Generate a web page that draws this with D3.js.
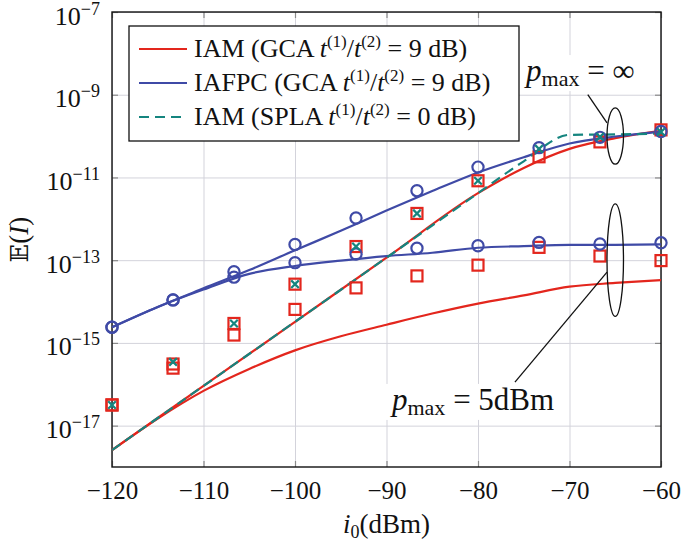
<!DOCTYPE html>
<html><head><meta charset="utf-8">
<script src="https://cdn.jsdelivr.net/npm/d3@7"></script>
<style>body{margin:0;background:#fff} svg{display:block}</style>
</head><body>
<svg id="c" width="685" height="548"></svg>
<script>
// ---------------- data (values are log10 of E(I)) ----------------
const markerX = [-120, -113.33, -106.67, -100, -93.33, -86.67, -80, -73.33, -66.67, -60];
const lineX5  = [-120, -115, -110, -105, -100, -95, -90, -85, -80, -75, -70, -65, -60];
const lineX10 = [-120, -110, -100, -90, -80, -75, -70, -65, -60];

// analytical curves
const iamGcaInfLine  = [-17.59, -16.04, -14.49, -12.94, -11.38, -10.77, -10.31, -10.05, -9.87]; // on lineX10
const splaInfLine    = [-17.59, -16.04, -14.49, -12.94, -11.38, -10.61, -9.97, -9.96, -9.94];   // on lineX10
const iamGca5Line    = [-17.59, -16.83, -16.16, -15.63, -15.18, -14.84, -14.56, -14.29, -14.05, -13.85, -13.64, -13.55, -13.48]; // lineX5
const iafpcInfLine   = [-14.62, -14.13, -13.68, -13.24, -12.76, -12.29, -11.80, -11.33, -10.88, -10.51, -10.18, -10.01, -9.89]; // lineX5
const iafpc5Line     = [-14.62, -14.13, -13.71, -13.33, -13.14, -13.01, -12.90, -12.82, -12.70, -12.66, -12.63, -12.63, -12.62]; // lineX5

// simulation markers (on markerX)
const iafpcInfSim = [-14.62, -13.96, -13.28, -12.62, -11.98, -11.32, -10.75, -10.28, -10.03, -9.89];
const iafpc5Sim   = [-14.62, -13.96, -13.41, -13.06, -12.85, -12.71, -12.65, -12.57, -12.61, -12.58];
const iamInfSim   = [-16.50, -15.51, -14.53, -13.58, -12.67, -11.87, -11.08, -10.50, -10.14, -9.85];
const iam5Sim     = [-16.50, -15.61, -14.81, -14.19, -13.67, -13.38, -13.12, -12.69, -12.90, -13.01];
const splaInfSim  = [-16.50, -15.46, -14.53, -13.58, -12.67, -11.87, -11.08, -10.31, -10.02, -9.90];

const xTicks = [-120, -110, -100, -90, -80, -70, -60];
const yTickExps = [-7, -9, -11, -13, -15, -17];

const legendItems = [
  {pre: "IAM (GCA ", post: " = 9 dB)", color: "#e3261d", dash: null},
  {pre: "IAFPC (GCA ", post: " = 9 dB)", color: "#3f4aa6", dash: null},
  {pre: "IAM (SPLA ", post: " = 0 dB)", color: "#15857f", dash: "10,6"}
];

// annotations (data coordinates: dB, log10)
const ellipses = [
  {cx: -65.0, cy: -10.0, rxDb: 0.9, ryDec: 0.68},
  {cx: -65.0, cy: -13.0, rxDb: 0.9, ryDec: 1.36}
];
const leaders = [
  {x1: -68.0, y1: -9.0, x2: -65.9, y2: -9.68},
  {x1: -75.96, y1: -15.95, x2: -65.9, y2: -13.29}
];
const labels = [
  {x: -74.75, y: -8.67, sub: "max", rest: " = ∞"},
  {x: -89.4, y: -16.62, sub: "max", rest: " = 5dBm"}
];

// ---------------- drawing ----------------
const RED = "#e3261d", BLUE = "#3f4aa6", TEAL = "#15857f";
const FONT = "'Liberation Serif', 'Times New Roman', serif";
const svg = d3.select("#c");
const L = 112, R = 661, T = 12, B = 467;
const x = d3.scaleLinear().domain([-120, -60]).range([L, R]);
const y = d3.scaleLog().domain([1e-18, 1e-7]).range([B, T]);
const P = v => Math.pow(10, v);

// grid
const gridY = yTickExps.map(P);
svg.append("g").attr("transform", `translate(0,${B})`)
  .call(d3.axisBottom(x).tickValues(xTicks).tickSize(-(B - T)).tickFormat(""))
  .call(g => { g.select(".domain").remove(); g.selectAll("line").attr("stroke", "#d3d3db").attr("stroke-width", 1); });
svg.append("g").attr("transform", `translate(${L},0)`)
  .call(d3.axisLeft(y).tickValues(gridY).tickSize(-(R - L)).tickFormat(""))
  .call(g => { g.select(".domain").remove(); g.selectAll("line").attr("stroke", "#d3d3db").attr("stroke-width", 1); });

// inward ticks on all sides
function tickStyle(g){ g.select(".domain").remove(); g.selectAll("line").attr("stroke", "#8a8a8a").attr("stroke-width", 1.2); }
const xb = svg.append("g").attr("transform", `translate(0,${B})`)
  .call(d3.axisBottom(x).tickValues(xTicks).tickSize(-6).tickPadding(14))
  .call(tickStyle);
xb.selectAll("text").attr("font-family", FONT).attr("font-size", 25).attr("fill", "#111");
svg.append("g").attr("transform", `translate(0,${T})`)
  .call(d3.axisTop(x).tickValues(xTicks).tickSize(-6).tickFormat("")).call(tickStyle);
const yl = svg.append("g").attr("transform", `translate(${L},0)`)
  .call(d3.axisLeft(y).tickValues(gridY).tickSize(-6).tickFormat("").tickPadding(12))
  .call(tickStyle);
svg.append("g").attr("transform", `translate(${R},0)`)
  .call(d3.axisRight(y).tickValues(gridY).tickSize(-6).tickFormat("")).call(tickStyle);

// y tick labels 10^e
yl.selectAll(".tick").each(function(d){
  const e = Math.round(Math.log10(d));
  const t = d3.select(this).select("text")
    .attr("x", -12).attr("dy", null).attr("y", 12)
    .attr("text-anchor", "end").attr("font-family", FONT).attr("fill", "#111");
  t.text(null);
  t.append("tspan").attr("font-size", 26).text("10");
  t.append("tspan").attr("font-size", 18).attr("dy", -10).text("−" + Math.abs(e));
});

// frame
svg.append("rect").attr("x", L).attr("y", T).attr("width", R - L).attr("height", B - T)
  .attr("fill", "none").attr("stroke", "#111").attr("stroke-width", 1.4);

// curves
const line = d3.line().curve(d3.curveMonotoneX).x(d => x(d[0])).y(d => y(P(d[1])));
const zip = (xs, ys) => xs.map((v, i) => [v, ys[i]]);
function drawLine(data, color, dash){
  svg.append("path").datum(data).attr("d", line).attr("fill", "none")
    .attr("stroke", color).attr("stroke-width", 2.2).attr("stroke-linejoin", "round")
    .attr("stroke-dasharray", dash);
}
drawLine(zip(lineX5, iamGca5Line), RED, null);
drawLine(zip(lineX10, iamGcaInfLine), RED, null);
drawLine(zip(lineX5, iafpc5Line), BLUE, null);
drawLine(zip(lineX5, iafpcInfLine), BLUE, null);
drawLine(zip(lineX10, splaInfLine), TEAL, "10,6");

// markers
function squares(vals){
  svg.append("g").selectAll("rect").data(zip(markerX, vals)).join("rect")
    .attr("x", d => x(d[0]) - 5.5).attr("y", d => y(P(d[1])) - 5.5)
    .attr("width", 11).attr("height", 11).attr("fill", "none")
    .attr("stroke", RED).attr("stroke-width", 2.2);
}
function circles(vals){
  svg.append("g").selectAll("circle").data(zip(markerX, vals)).join("circle")
    .attr("cx", d => x(d[0])).attr("cy", d => y(P(d[1]))).attr("r", 5.6)
    .attr("fill", "none").attr("stroke", BLUE).attr("stroke-width", 2.2);
}
function crosses(vals){
  const g = svg.append("g").attr("stroke", TEAL).attr("stroke-width", 2.2);
  zip(markerX, vals).forEach(d => {
    const cx = x(d[0]), cy = y(P(d[1])), s = 3.8;
    g.append("path").attr("d", `M${cx-s},${cy-s}L${cx+s},${cy+s}M${cx-s},${cy+s}L${cx+s},${cy-s}`);
  });
}
squares(iam5Sim);
squares(iamInfSim);
circles(iafpc5Sim);
circles(iafpcInfSim);
crosses(splaInfSim);

// annotations
ellipses.forEach(e => {
  const cx = x(e.cx), cy = y(P(e.cy));
  svg.append("ellipse").attr("cx", cx).attr("cy", cy)
    .attr("rx", x(e.cx + e.rxDb) - cx).attr("ry", cy - y(P(e.cy + e.ryDec)))
    .attr("fill", "none").attr("stroke", "#111").attr("stroke-width", 1.3);
});
labels.forEach(lb => {
  const t = svg.append("text").attr("x", x(lb.x)).attr("y", y(P(lb.y)))
    .attr("font-family", FONT).attr("font-size", 31).attr("fill", "#111");
  t.append("tspan").attr("font-style", "italic").text("p");
  t.append("tspan").attr("font-size", 22).attr("dy", 5).text(lb.sub);
  t.append("tspan").attr("dy", -5).text(lb.rest);
  const bb = t.node().getBBox();
  svg.insert("rect", function(){ return t.node(); })
    .attr("x", bb.x - 4).attr("y", bb.y + 2).attr("width", bb.width + 8).attr("height", bb.height - 2)
    .attr("fill", "#fff");
});
leaders.forEach(l => {
  svg.append("line").attr("x1", x(l.x1)).attr("y1", y(P(l.y1)))
    .attr("x2", x(l.x2)).attr("y2", y(P(l.y2)))
    .attr("stroke", "#111").attr("stroke-width", 1.3);
});

// legend
const lg = svg.append("g");
lg.append("rect").attr("x", 129).attr("y", 26).attr("width", 390).attr("height", 115)
  .attr("fill", "#fff").attr("stroke", "#111").attr("stroke-width", 1.3);
legendItems.forEach((it, i) => {
  const cy = 49 + i * 34;
  lg.append("line").attr("x1", 139).attr("x2", 187).attr("y1", cy).attr("y2", cy)
    .attr("stroke", it.color).attr("stroke-width", 2.2).attr("stroke-dasharray", it.dash);
  const t = lg.append("text").attr("x", 194).attr("y", cy + 8)
    .attr("font-family", FONT).attr("font-size", 26).attr("fill", "#111");
  t.append("tspan").text(it.pre);
  t.append("tspan").attr("font-style", "italic").text("t");
  t.append("tspan").attr("font-size", 17).attr("dy", -10).text("(1)");
  t.append("tspan").attr("dy", 10).text("/");
  t.append("tspan").attr("font-style", "italic").text("t");
  t.append("tspan").attr("font-size", 17).attr("dy", -10).text("(2)");
  t.append("tspan").attr("dy", 10).text(it.post);
});

// axis titles
const xt = svg.append("text").attr("x", (L + R) / 2).attr("y", 533).attr("text-anchor", "middle")
  .attr("font-family", FONT).attr("font-size", 27).attr("fill", "#111");
xt.append("tspan").attr("font-style", "italic").text("i");
xt.append("tspan").attr("font-size", 18).attr("dy", 5).text("0");
xt.append("tspan").attr("dy", -5).text("(dBm)");

const ytl = svg.append("text").attr("transform", `translate(28,${(T + B) / 2}) rotate(-90)`)
  .attr("text-anchor", "middle").attr("font-family", FONT).attr("font-size", 27).attr("fill", "#111");
ytl.append("tspan").attr("font-family", "'DejaVu Serif', 'DejaVu Sans', serif").attr("font-size", 24).text("𝔼");
ytl.append("tspan").text("(");
ytl.append("tspan").attr("font-style", "italic").text("I");
ytl.append("tspan").text(")");
</script>
</body></html>
